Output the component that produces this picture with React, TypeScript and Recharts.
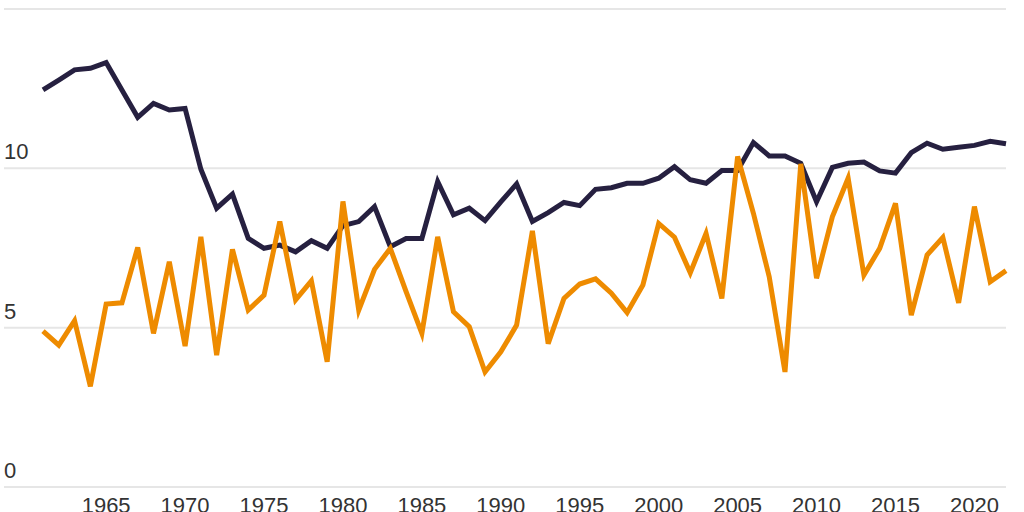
import { CartesianGrid, Line, LineChart, XAxis, YAxis } from "recharts";

// 年份 1961–2022
const years = [
  1961, 1962, 1963, 1964, 1965, 1966, 1967, 1968, 1969, 1970,
  1971, 1972, 1973, 1974, 1975, 1976, 1977, 1978, 1979, 1980,
  1981, 1982, 1983, 1984, 1985, 1986, 1987, 1988, 1989, 1990,
  1991, 1992, 1993, 1994, 1995, 1996, 1997, 1998, 1999, 2000,
  2001, 2002, 2003, 2004, 2005, 2006, 2007, 2008, 2009, 2010,
  2011, 2012, 2013, 2014, 2015, 2016, 2017, 2018, 2019, 2020,
  2021, 2022,
];

// 深色线
const darkSeries = [
  12.46, 12.77, 13.09, 13.14, 13.32, 12.46, 11.6, 12.04, 11.83, 11.88,
  9.97, 8.75, 9.19, 7.8, 7.49, 7.59, 7.38, 7.73, 7.49, 8.2,
  8.33, 8.8, 7.54, 7.8, 7.8, 9.58, 8.54, 8.75, 8.36, 8.95,
  9.51, 8.33, 8.61, 8.93, 8.83, 9.34, 9.39, 9.53, 9.53, 9.69,
  10.05, 9.64, 9.53, 9.93, 9.93, 10.81, 10.39, 10.39, 10.16, 8.95,
  10.03, 10.16, 10.2, 9.92, 9.85, 10.49, 10.79, 10.6, 10.66, 10.72,
  10.85, 10.77,
];

// 橙色线
const orangeSeries = [
  4.89, 4.45, 5.22, 3.16, 5.74, 5.78, 7.52, 4.82, 7.07, 4.42,
  7.85, 4.14, 7.46, 5.55, 6.02, 8.33, 5.87, 6.47, 3.93, 8.96,
  5.55, 6.83, 7.49, 6.13, 4.82, 7.85, 5.5, 5.03, 3.61, 4.24,
  5.08, 8.04, 4.5, 5.92, 6.37, 6.53, 6.08, 5.47, 6.34, 8.27,
  7.84, 6.72, 7.96, 5.92, 10.37, 8.59, 6.6, 3.61, 10.14, 6.55,
  8.48, 9.69, 6.65, 7.49, 8.9, 5.39, 7.28, 7.83, 5.78, 8.8,
  6.44, 6.79,
];

const yTicks = [0, 5, 10, 15];
const xTicks = [1965, 1970, 1975, 1980, 1985, 1990, 1995, 2000, 2005, 2010, 2015, 2020];

const DARK = "#262040";
const ORANGE = "#EE8B00";
const GRID = "#e6e6e6";
const TEXT = "#333333";
const FONT = "'Liberation Sans', Arial, sans-serif";

const WIDTH = 1024;
const HEIGHT = 512;
const PLOT_LEFT = 4;

const rows = years.map((year, i) => ({
  year,
  dark: darkSeries[i],
  orange: orangeSeries[i],
}));

// y 轴标签:放在网格线上方、左对齐
function YTick({ y, payload }: { y?: number; payload?: { value: number } }) {
  return (
    <text
      x={PLOT_LEFT}
      y={(y ?? 0) - 9}
      textAnchor="start"
      fill={TEXT}
      fontSize={22}
      fontFamily={FONT}
    >
      {payload?.value}
    </text>
  );
}

function XTick({ x, y, payload }: { x?: number; y?: number; payload?: { value: number } }) {
  return (
    <text
      x={x}
      y={(y ?? 0) + 18}
      textAnchor="middle"
      fill={TEXT}
      fontSize={22}
      fontFamily={FONT}
    >
      {payload?.value}
    </text>
  );
}

export default function App() {
  return (
    <div
      style={{
        position: "absolute",
        left: 0,
        top: 0,
        width: WIDTH,
        height: HEIGHT,
        background: "#fff",
        overflow: "hidden",
      }}
    >
      <LineChart
        width={WIDTH}
        height={HEIGHT}
        data={rows}
        margin={{ top: 9, right: 18, bottom: 0, left: PLOT_LEFT }}
      >
        <CartesianGrid vertical={false} stroke={GRID} strokeWidth={2} />
        <XAxis
          dataKey="year"
          type="number"
          domain={[1961, 2022]}
          ticks={xTicks}
          padding={{ left: 39, right: 0 }}
          axisLine={false}
          tickLine={false}
          height={25}
          tick={<XTick />}
          interval={0}
        />
        <YAxis
          domain={[0, 15]}
          ticks={yTicks}
          width={40}
          mirror
          axisLine={false}
          tickLine={false}
          tick={<YTick />}
          interval={0}
        />
        <Line
          dataKey="dark"
          stroke={DARK}
          strokeWidth={5}
          dot={false}
          activeDot={false}
          isAnimationActive={false}
        />
        <Line
          dataKey="orange"
          stroke={ORANGE}
          strokeWidth={5}
          dot={false}
          activeDot={false}
          isAnimationActive={false}
        />
      </LineChart>
    </div>
  );
}
